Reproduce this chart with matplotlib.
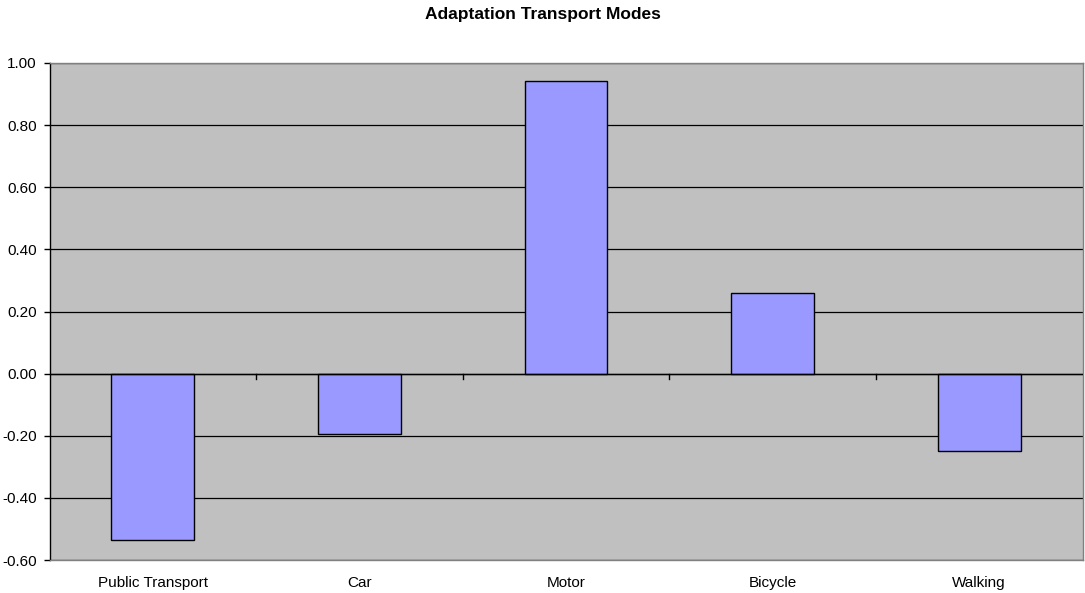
import numpy as np
import matplotlib
matplotlib.use("Agg")
import matplotlib.pyplot as plt

plt.rcParams["font.family"] = ["Liberation Sans", "DejaVu Sans"]

CATEGORIES = ["Public Transport", "Car", "Motor", "Bicycle", "Walking"]
VALUES = [-0.535, -0.195, 0.943, 0.261, -0.248]
Y_TICKS = [-0.6, -0.4, -0.2, 0.0, 0.2, 0.4, 0.6, 0.8, 1.0]

fig = plt.figure(figsize=(10.85, 5.93), dpi=100)
ax = fig.add_axes([49.5 / 1085, (593 - 560) / 593, 1033 / 1085, 497 / 593])
ax.set_facecolor("#C0C0C0")

x = np.arange(len(CATEGORIES))
ax.bar(x, VALUES, width=0.4, color="#9999FF", edgecolor="black", linewidth=1, zorder=3)

ax.set_xlim(-0.5, len(CATEGORIES) - 0.5)
ax.set_ylim(-0.6, 1.0)
ax.set_yticks(Y_TICKS)
ax.set_yticklabels([f"{v:.2f}" for v in Y_TICKS], fontsize=11)
ax.yaxis.grid(True, color="black", linewidth=0.9, zorder=1)
ax.set_axisbelow(True)

# category labels at the bottom, no ticks there
ax.set_xticks(x)
ax.set_xticklabels(CATEGORIES, fontsize=11)
ax.tick_params(axis="x", length=0, pad=11.5)
ax.tick_params(axis="y", length=4.5, width=1, direction="out", pad=4.5)

for side in ["top", "right", "bottom"]:
    ax.spines[side].set_color("#808080")
    ax.spines[side].set_linewidth(1)
ax.spines["left"].set_color("black")
ax.spines["left"].set_linewidth(1)

# zero axis with category separator ticks
ax.axhline(0, color="black", linewidth=1, zorder=4)
for b in np.arange(0.5, len(CATEGORIES) - 0.5, 1.0):
    ax.plot([b, b], [0, -0.016], color="black", linewidth=1, zorder=4, clip_on=False)

fig.text(0.5, 1 - 15 / 593, "Adaptation Transport Modes", ha="center", va="center",
         fontsize=12.5, fontweight="bold")

fig.savefig("out.png", dpi=100)
